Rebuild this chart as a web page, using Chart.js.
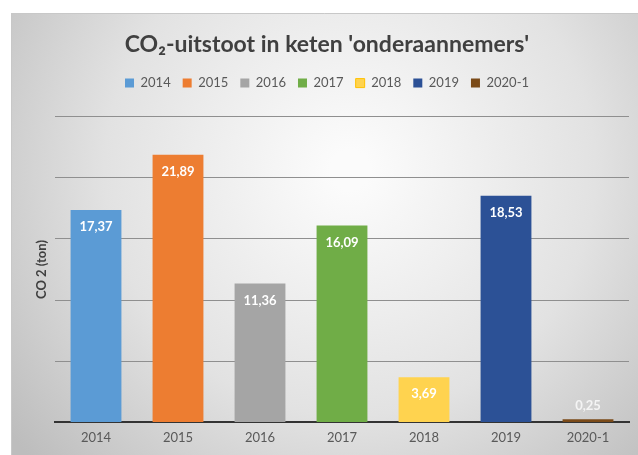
<!DOCTYPE html>
<html>
<head>
<meta charset="utf-8">
<script src="https://cdn.jsdelivr.net/npm/chart.js@4/dist/chart.umd.min.js"></script>
<style>
  html, body { margin: 0; padding: 0; background: #fff; }
  #wrap { width: 638px; height: 455px; position: relative; }
</style>
</head>
<body>
<div id="wrap"><canvas id="co2Chart"></canvas></div>
<script>
// chart data
var categories = ['2014', '2015', '2016', '2017', '2018', '2019', '2020-1'];
var co2Values = [17.37, 21.89, 11.36, 16.09, 3.69, 18.53, 0.25];
var barColors = ['#5B9BD5', '#ED7D31', '#A5A5A5', '#70AD47', '#FFD34F', '#2C5196', '#7A4A18'];
var yTicks = [0, 5, 10, 15, 20, 25];

var FONT = 'Lato, "Open Sans", sans-serif';

// gray radial backdrop like the Excel chart area
var backdrop = {
    id: 'backdrop',
    beforeDraw: function(chart) {
        var ctx = chart.ctx;
        ctx.save();
        ctx.fillStyle = '#ffffff';
        ctx.fillRect(0, 0, chart.width, chart.height);
        var g = ctx.createRadialGradient(350, 170, 20, 350, 170, 430);
        g.addColorStop(0, '#fbfbfb');
        g.addColorStop(0.55, '#e2e2e2');
        g.addColorStop(1, '#bdbdbd');
        ctx.fillStyle = g;
        ctx.fillRect(11, 13, chart.width - 11, chart.height - 13);
        ctx.strokeStyle = '#c8c8c8';
        ctx.lineWidth = 1;
        ctx.beginPath();
        ctx.moveTo(11.5, chart.height);
        ctx.lineTo(11.5, 13.5);
        ctx.lineTo(chart.width, 13.5);
        ctx.stroke();
        ctx.restore();
    }
};

// extra room under the legend
var legendGap = {
    id: 'legendGap',
    beforeInit: function(chart) {
        var legend = chart.legend;
        if (!legend) return;
        var origFit = legend.fit;
        legend.fit = function() {
            origFit.call(this);
            this.height += 17;
        };
    }
};

// value labels (comma decimals) on the bars
var valueLabels = {
    id: 'valueLabels',
    afterDatasetsDraw: function(chart) {
        var ctx = chart.ctx;
        var meta = chart.getDatasetMeta(0);
        ctx.save();
        ctx.font = 'bold 13px ' + FONT;
        ctx.textAlign = 'center';
        ctx.textBaseline = 'middle';
        meta.data.forEach(function(bar, i) {
            var v = co2Values[i];
            var txt = v.toFixed(2).replace('.', ',');
            var y = v > 2 ? bar.y + 17 : bar.y - 14;
            ctx.fillStyle = v > 2 ? '#ffffff' : '#f4f4f4';
            ctx.fillText(txt, bar.x, y);
        });
        ctx.restore();
    }
};

var ctx = document.getElementById('co2Chart').getContext('2d');

new Chart(ctx, {
    type: 'bar',
    data: {
        labels: categories,
        datasets: [{
            label: 'CO2',
            data: co2Values,
            backgroundColor: barColors,
            borderWidth: 0,
            barPercentage: 0.62,
            categoryPercentage: 1
        }]
    },
    options: {
        responsive: true,
        maintainAspectRatio: false,
        animation: false,
        layout: {
            padding: { left: 25, right: 9, top: 0, bottom: 1 }
        },
        plugins: {
            title: {
                display: true,
                text: 'CO\u2082-uitstoot in keten \'onderaannemers\'',
                color: '#404040',
                font: { family: FONT, size: 23, weight: 'bold' },
                padding: { top: 31, bottom: 6 }
            },
            legend: {
                display: true,
                position: 'top',
                labels: {
                    color: '#595959',
                    font: { family: FONT, size: 13 },
                    boxWidth: 9,
                    boxHeight: 9,
                    padding: 12,
                    generateLabels: function() {
                        return categories.map(function(c, i) {
                            return {
                                text: c,
                                fillStyle: barColors[i],
                                strokeStyle: i === 4 ? '#FFC000' : barColors[i],
                                lineWidth: i === 4 ? 1 : 0,
                                fontColor: '#595959',
                                hidden: false,
                                index: i
                            };
                        });
                    }
                }
            },
            tooltip: { enabled: false }
        },
        scales: {
            x: {
                grid: { display: false, drawTicks: false },
                border: { display: true, color: '#333333', width: 2 },
                ticks: {
                    color: '#595959',
                    font: { family: FONT, size: 13 },
                    padding: 8
                }
            },
            y: {
                min: 0,
                max: 25,
                afterBuildTicks: function(scale) {
                    scale.ticks = yTicks.map(function(v) { return { value: v }; });
                },
                afterFit: function(scale) {
                    scale.width = 30;
                },
                ticks: { display: false },
                grid: {
                    color: function(c) { return c.tick && c.tick.value === 0 ? 'rgba(0,0,0,0)' : '#8f8f8f'; },
                    lineWidth: 1,
                    drawTicks: false
                },
                border: { display: false },
                title: {
                    display: true,
                    text: 'CO 2 (ton)',
                    color: '#404040',
                    font: { family: FONT, size: 13, weight: 'bold' },
                    padding: { top: 9, bottom: 0 }
                }
            }
        }
    },
    plugins: [backdrop, legendGap, valueLabels]
});
</script>
</body>
</html>
